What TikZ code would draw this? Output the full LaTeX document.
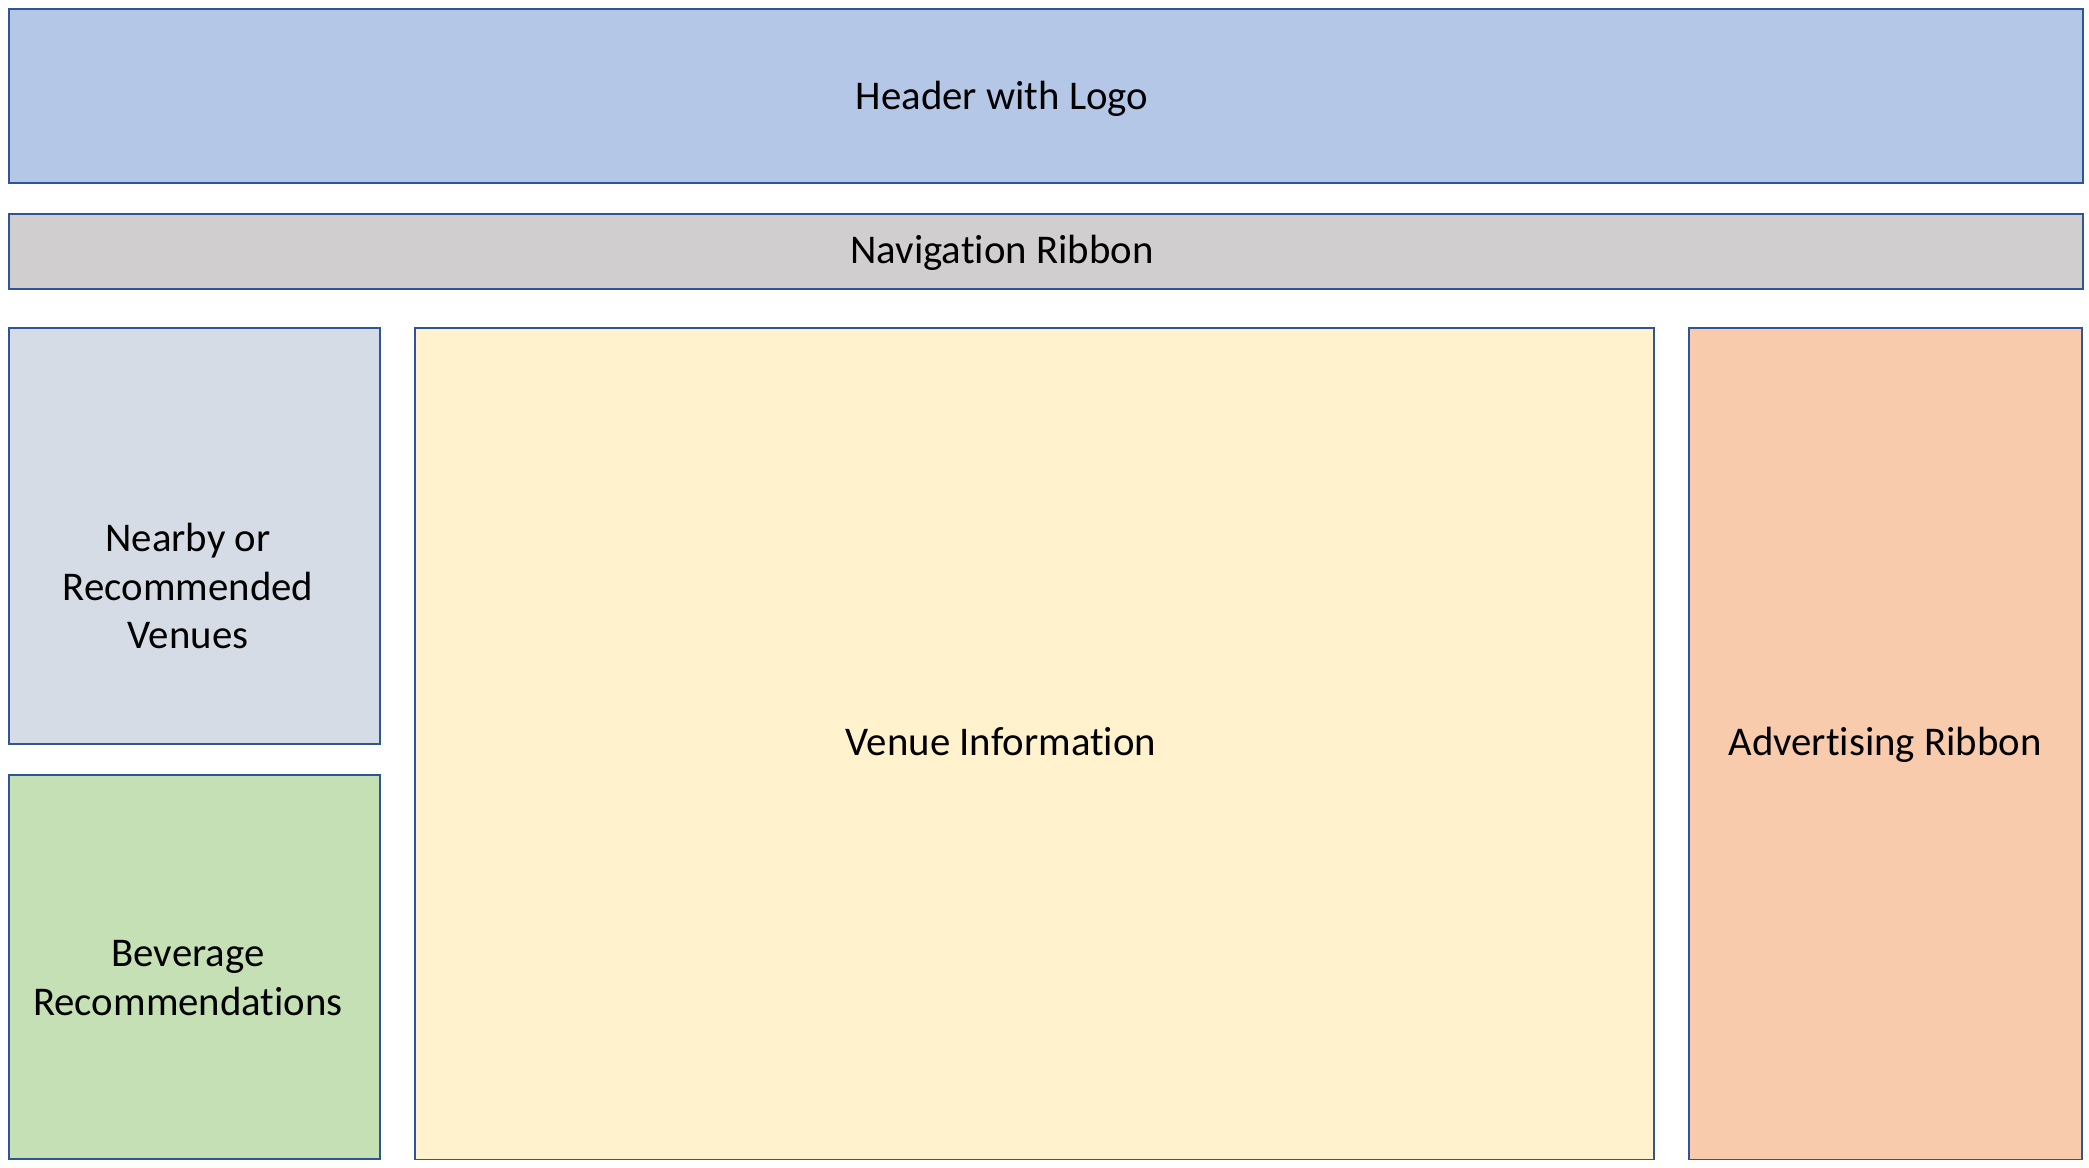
\documentclass[tikz,border=0pt]{standalone}
\usepackage{fontspec}
\setmainfont{Carlito}[Ligatures={NoCommon}]
\usetikzlibrary{positioning}

\definecolor{paneline}{HTML}{2F5597}
\definecolor{headerfill}{HTML}{B4C7E7}
\definecolor{navfill}{HTML}{D0CECE}
\definecolor{nearfill}{HTML}{D6DCE5}
\definecolor{bevfill}{HTML}{C5E0B4}
\definecolor{venuefill}{HTML}{FFF2CC}
\definecolor{adfill}{HTML}{F8CBAD}

\begin{document}
\begin{tikzpicture}[x=0.01cm,y=-0.01cm,
	pane/.style={draw=paneline,line width=0.55pt,inner sep=0,outer sep=0,anchor=north west},
	panetext/.style={align=center,inner sep=0,font=\fontsize{11.6}{13.9}\selectfont}]
				    \useasboundingbox (0,0) rectangle (2089,1167);
				    % Place nodes
				    \node [pane,fill=headerfill,minimum width=20.73cm,minimum height=1.74cm] (header) at (9,9) {};
				    \node [pane,fill=navfill,minimum width=20.73cm,minimum height=0.75cm] (nav) at (9,214) {};
				    \node [pane,fill=nearfill,minimum width=3.71cm,minimum height=4.16cm] (near) at (9,328) {};
				    \node [pane,fill=bevfill,minimum width=3.71cm,minimum height=3.84cm] (bev) at (9,775) {};
				    \node [pane,fill=venuefill,minimum width=12.38cm,minimum height=8.31cm] (venue) at (415,328) {};
				    \node [pane,fill=adfill,minimum width=3.93cm,minimum height=8.31cm] (ad) at (1689,328) {};

				    % Texts
				    \node [panetext,anchor=base] (headertext) at (1002,110) {Header with Logo};
				    \node [panetext,anchor=base] (navtext) at (1002,264) {Navigation Ribbon};
				    \node [panetext,anchor=base] (venuetext) at (1001,755) {Venue Information};
				    \node [panetext,anchor=base] (adtext) at (1885,755) {Advertising Ribbon};
				    \node [panetext] (neartext) at (188,586) {Nearby or\\Recommended\\Venues};
				    \node [panetext] (bevtext) at (188,978) {Beverage\\Recommendations};
				\end{tikzpicture}
\end{document}
